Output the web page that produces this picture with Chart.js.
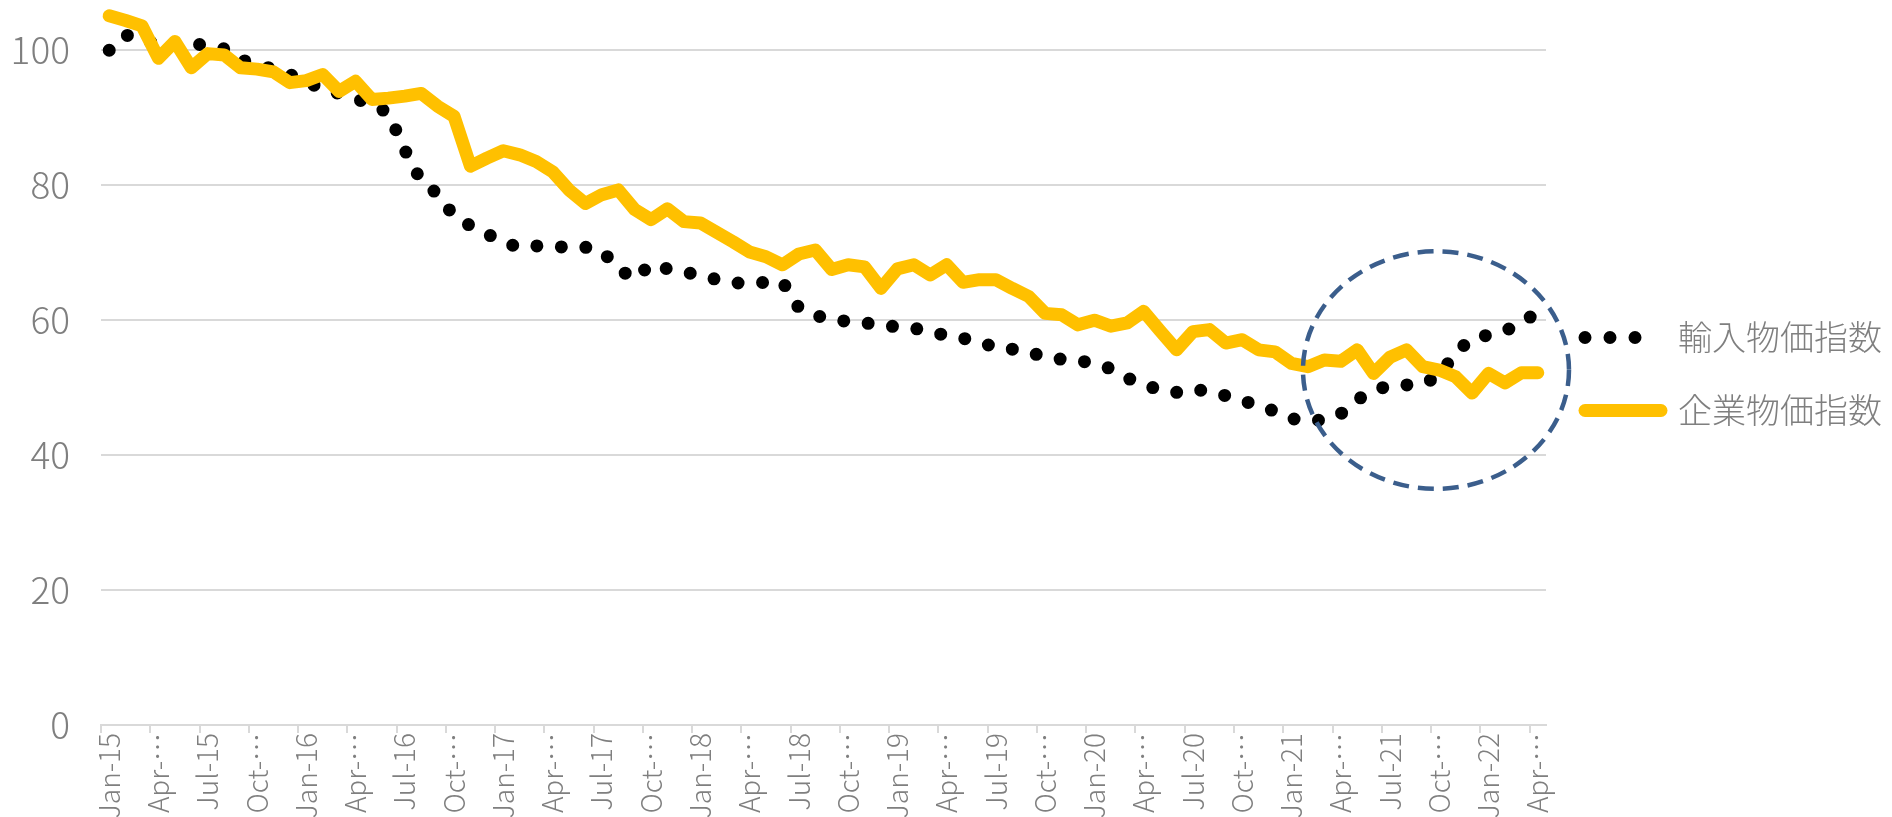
<!DOCTYPE html>
<html lang="ja">
<head>
<meta charset="utf-8">
<title>輸入物価指数と企業物価指数</title>
<script src="https://cdn.jsdelivr.net/npm/chart.js@4.4.1/dist/chart.umd.min.js"></script>
<style>
  html, body { margin: 0; padding: 0; background: #ffffff; }
  #wrap { width: 1892px; height: 817px; position: relative; }
</style>
</head>
<body>
<div id="wrap"><canvas id="grafico"></canvas></div>
<script>
// categorias: Jan-15 .. Apr-22
const meses = ['Jan', 'Feb', 'Mar', 'Apr', 'May', 'Jun', 'Jul', 'Aug', 'Sep', 'Oct', 'Nov', 'Dec'];
const anos = ['15', '16', '17', '18', '19', '20', '21', '22'];
const labels = [];
anos.forEach(a => meses.forEach(m => { if (labels.length < 88) labels.push(m + '-' + a); }));

const nomes = ['輸入物価指数', '企業物価指数'];

const importPrice = [
  100.0, 102.3, 101.3, 101.1, 101.1, 101.0, 100.7, 100.2, 98.6, 97.9, 97.2, 96.4,
  95.3, 94.3, 93.6, 92.8, 92.0, 90.7, 85.2, 80.6, 78.7, 75.4, 74.0, 72.8,
  71.5, 70.8, 71.0, 70.9, 70.8, 70.8, 70.3, 67.6, 66.1, 68.3, 67.6, 67.1,
  66.7, 66.0, 65.5, 65.5, 65.6, 65.7, 61.8, 60.7, 60.1, 59.8, 59.6, 59.3,
  59.0, 58.8, 58.3, 57.7, 57.3, 56.8, 55.9, 55.7, 55.3, 54.5, 54.2, 54.0,
  53.6, 52.8, 51.4, 50.5, 49.6, 49.3, 49.8, 49.4, 48.8, 48.1, 47.3, 46.5,
  45.4, 45.1, 45.2, 46.1, 48.2, 49.6, 50.3, 50.4, 50.5, 51.8, 55.2, 57.3,
  57.8, 58.4, 59.6, 61.2
];

const corporatePrice = [
  105.1, 104.4, 103.6, 98.8, 101.3, 97.4, 99.5, 99.3, 97.4, 97.2, 96.8, 95.2,
  95.5, 96.4, 93.9, 95.4, 92.7, 92.9, 93.2, 93.6, 91.7, 90.2, 82.8, 84.0,
  85.1, 84.5, 83.5, 82.0, 79.3, 77.3, 78.6, 79.3, 76.4, 74.9, 76.5, 74.6,
  74.4, 73.0, 71.6, 70.1, 69.4, 68.2, 69.8, 70.4, 67.5, 68.2, 67.9, 64.7,
  67.6, 68.2, 66.7, 68.2, 65.6, 66.0, 66.0, 64.7, 63.5, 61.0, 60.8, 59.3,
  60.0, 59.1, 59.6, 61.3, 58.4, 55.6, 58.3, 58.6, 56.6, 57.1, 55.6, 55.3,
  53.6, 53.1, 54.1, 53.9, 55.6, 52.1, 54.5, 55.6, 53.1, 52.6, 51.6, 49.2,
  52.1, 50.7, 52.2, 52.2
];

const yTicks = [0, 20, 40, 60, 80, 100];

// circulo tracejado (em unidades dos eixos)
const destaque = { x: 80.8, y: 52.6, rx: 8.1, ry: 17.6 };

const cinza = '#7f7f7f';
const fonte = "'Noto Sans CJK JP', 'Noto Sans', sans-serif";
const legendaSobe = 36; // px que a legenda sobe

const circuloPlugin = {
  id: 'circulo',
  afterLayout(chart) {
    // legenda um pouco acima do centro, como no original
    chart.legend.bottom -= legendaSobe * 2;
  },
  afterDatasetsDraw(chart) {
    const { ctx, scales: { x, y } } = chart;
    const cx = x.getPixelForValue(destaque.x);
    const cy = y.getPixelForValue(destaque.y);
    const rx = x.getPixelForValue(destaque.x + destaque.rx) - cx;
    const ry = cy - y.getPixelForValue(destaque.y + destaque.ry);
    ctx.save();
    ctx.strokeStyle = '#3b5e8c';
    ctx.lineWidth = 4.5;
    ctx.setLineDash([16, 9]);
    ctx.beginPath();
    ctx.ellipse(cx, cy, rx, ry, 0, 0, Math.PI * 2);
    ctx.stroke();
    ctx.restore();
  }
};

const grafico = document.getElementById('grafico');
new Chart(grafico, {
  type: 'line',
  data: {
    labels: labels,
    datasets: [{
      label: nomes[0],
      data: importPrice,
      borderColor: '#000000',
      borderWidth: 13,
      borderDash: [0, 24.5],
      borderCapStyle: 'round',
      borderJoinStyle: 'round',
      pointRadius: 0,
      order: 1,
      clip: false
    }, {
      label: nomes[1],
      data: corporatePrice,
      borderColor: '#FFC000',
      borderWidth: 13,
      borderCapStyle: 'round',
      borderJoinStyle: 'round',
      pointRadius: 0,
      order: 0,
      clip: false
    }]
  },
  options: {
    responsive: true,
    maintainAspectRatio: false,
    animation: false,
    layout: { padding: { top: 3, left: 0, right: 0, bottom: 0 } },
    plugins: {
      tooltip: { enabled: false },
      legend: {
        position: 'right',
        labels: {
          usePointStyle: true,
          pointStyleWidth: 76,
          padding: 39,
          color: cinza,
          font: { family: fonte, size: 34, weight: '300' },
          generateLabels: () => [
            { text: nomes[0], strokeStyle: '#000000', fillStyle: 'transparent', lineWidth: 13,
              lineDash: [0, 25, 0, 25, 0, 200], lineCap: 'round', pointStyle: 'line',
              fontColor: cinza, hidden: false, datasetIndex: 0 },
            { text: nomes[1], strokeStyle: '#FFC000', fillStyle: 'transparent', lineWidth: 13,
              lineCap: 'round', pointStyle: 'line', fontColor: cinza, hidden: false, datasetIndex: 1 }
          ]
        }
      }
    },
    scales: {
      x: {
        offset: true,
        border: { color: '#d9d9d9', width: 2 },
        grid: {
          offset: true,
          drawOnChartArea: false,
          drawTicks: true,
          tickLength: 8,
          lineWidth: 2,
          color: (c) => (c.index % 3 === 0 ? '#d9d9d9' : 'rgba(0,0,0,0)')
        },
        ticks: {
          autoSkip: false,
          maxRotation: 90,
          minRotation: 90,
          padding: 0,
          color: cinza,
          font: { family: fonte, size: 28, weight: '300' },
          callback: function (value, index) {
            if (index % 3 !== 0) return '';
            const lab = this.getLabelForValue(value);
            if (lab.startsWith('Apr') || lab.startsWith('Oct')) return lab.slice(0, 4) + '…';
            return lab;
          }
        },
        afterFit: (s) => { s.height = 92; s.paddingLeft = 0; s.paddingRight = 0; }
      },
      y: {
        min: 0,
        max: 107,
        border: { display: false },
        grid: { color: '#d9d9d9', lineWidth: 2, drawTicks: false },
        afterBuildTicks: (s) => { s.ticks = yTicks.map(v => ({ value: v })); },
        ticks: {
          padding: 31,
          color: cinza,
          font: { family: fonte, size: 37, weight: '300' }
        },
        afterFit: (s) => { s.width = 101; s.paddingTop = 0; s.paddingBottom = 0; }
      }
    }
  },
  plugins: [circuloPlugin]
});
</script>
</body>
</html>
